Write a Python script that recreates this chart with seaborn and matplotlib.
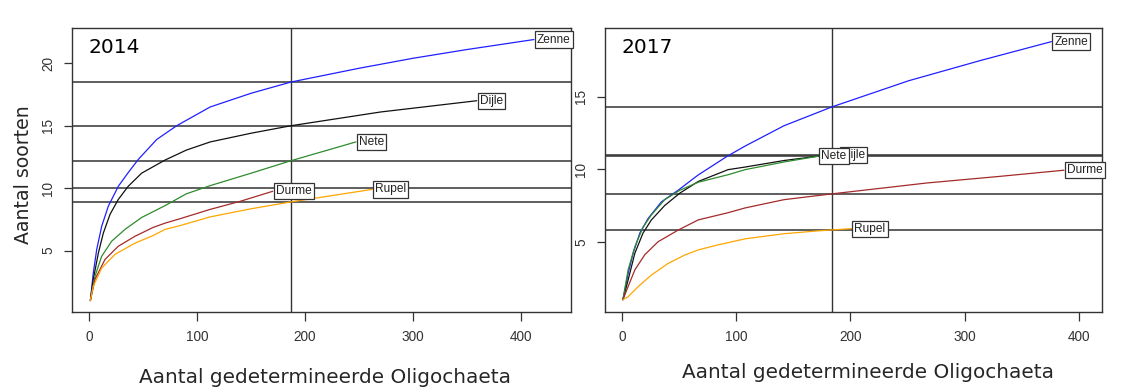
import matplotlib
matplotlib.use("Agg")
import matplotlib.pyplot as plt
import seaborn as sns
import pandas as pd

# ---------------- data ----------------
rivers = ["Zenne", "Dijle", "Nete", "Durme", "Rupel"]
colors = {"Zenne": "#2020ff", "Dijle": "#111111", "Nete": "#2e8b2e",
          "Durme": "#a52a2a", "Rupel": "#ffa500"}

# 2014
x14_zenne = [1, 3.7, 6.9, 11.5, 17.6, 26.9, 36.1, 45.4, 62.5, 81, 112, 150, 187, 250, 300, 350, 412]
y14_zenne = [1, 3.2, 5.1, 6.95, 8.55, 10.15, 11.25, 12.3, 13.9, 15.0, 16.5, 17.6, 18.5, 19.6, 20.4, 21.1, 21.9]
x14_dijle = [1, 3.7, 8.4, 13, 19.2, 26.9, 36.1, 48.5, 70.2, 90, 112, 150, 187, 270, 359]
y14_dijle = [1, 2.7, 4.8, 6.4, 7.9, 9.1, 10.15, 11.2, 12.25, 13.05, 13.7, 14.4, 15.0, 16.1, 17.0]
x14_nete = [1, 5.3, 11.5, 20.7, 33.1, 48.5, 70.2, 90, 112, 150, 187, 247]
y14_nete = [1, 2.95, 4.55, 5.75, 6.7, 7.65, 8.6, 9.55, 10.2, 11.2, 12.2, 13.7]
x14_durme = [1, 5.3, 14.6, 26.9, 42.4, 59, 70.2, 84, 112, 140, 170]
y14_durme = [1, 2.7, 4.3, 5.35, 6.15, 6.85, 7.2, 7.55, 8.3, 8.95, 9.75]
x14_rupel = [1, 3.7, 11.5, 23.8, 42.4, 59, 70.2, 84, 112, 150, 187, 262]
y14_rupel = [1, 2.15, 3.6, 4.7, 5.6, 6.2, 6.7, 7.0, 7.7, 8.35, 8.9, 9.9]
ref14_x = 187
ref14_y = [18.5, 15.0, 12.2, 10.0, 8.9]

# 2017
x17_zenne = [1, 5.5, 9.9, 15.8, 23, 34.7, 49.3, 66.8, 92, 108, 142, 184, 251, 314, 376]
y17_zenne = [1, 2.8, 4.2, 5.6, 6.6, 7.75, 8.55, 9.6, 10.88, 11.6, 13.0, 14.3, 16.1, 17.5, 18.8]
x17_dijle = [1, 5.5, 11.4, 18.6, 25.9, 37.6, 50.8, 66.8, 93, 108, 142, 172, 190]
y17_dijle = [1, 2.35, 4.2, 5.6, 6.5, 7.5, 8.35, 9.15, 9.97, 10.15, 10.6, 10.9, 11.0]
x17_nete = [1, 5.5, 11.4, 18.6, 25.9, 37.6, 50.8, 66.8, 93, 108, 142, 172]
y17_nete = [1, 3.05, 4.65, 6.0, 6.85, 7.9, 8.55, 9.1, 9.62, 9.97, 10.5, 10.9]
x17_durme = [1, 5.5, 11.4, 20.1, 31.8, 49.3, 66.8, 93, 108, 142, 184, 267, 330, 387]
y17_durme = [1, 1.9, 3.05, 4.1, 5.0, 5.8, 6.5, 7.0, 7.33, 7.9, 8.3, 9.05, 9.5, 9.93]
x17_rupel = [1, 5.5, 14.3, 25.9, 40.5, 55.1, 66.8, 82, 108, 142, 172, 201]
y17_rupel = [1, 1.2, 1.9, 2.7, 3.5, 4.08, 4.43, 4.74, 5.2, 5.55, 5.75, 5.9]
ref17_x = 184
ref17_y = [14.3, 11.0, 10.9, 8.3, 5.8]

xticks = [0, 100, 200, 300, 400]
yticks14 = [5, 10, 15, 20]
yticks17 = [5, 10, 15]
xlabel = "Aantal gedetermineerde Oligochaeta"
ylabel = "Aantal soorten"


def long_df(series):
    frames = []
    for name, xs, ys in series:
        frames.append(pd.DataFrame({"x": xs, "y": ys, "river": name}))
    return pd.concat(frames, ignore_index=True)


df14 = long_df([("Zenne", x14_zenne, y14_zenne), ("Dijle", x14_dijle, y14_dijle),
                ("Nete", x14_nete, y14_nete), ("Durme", x14_durme, y14_durme),
                ("Rupel", x14_rupel, y14_rupel)])
df17 = long_df([("Zenne", x17_zenne, y17_zenne), ("Dijle", x17_dijle, y17_dijle),
                ("Nete", x17_nete, y17_nete), ("Durme", x17_durme, y17_durme),
                ("Rupel", x17_rupel, y17_rupel)])

# ---------------- style ----------------
sns.set_style("white")
plt.rcParams["font.family"] = ["Liberation Sans", "DejaVu Sans"]

W, H = 1129, 392
fig = plt.figure(figsize=(W / 100, H / 100), dpi=100)
fig.patch.set_facecolor("white")

ax1 = fig.add_axes([71.7 / W, 1 - 312.3 / H, 499.3 / W, 284 / H])
ax2 = fig.add_axes([605 / W, 1 - 312.3 / H, 497 / W, 284 / H])

label_order14 = ["Rupel", "Durme", "Nete", "Dijle", "Zenne"]
label_order17 = ["Rupel", "Durme", "Dijle", "Nete", "Zenne"]


def draw(ax, df, ref_x, ref_y, xlim, ylim, yticks, year, order):
    for v in ref_y:
        ax.axhline(v, color="#333333", lw=1.1, zorder=1)
    ax.axvline(ref_x, color="#333333", lw=1.0, zorder=1)
    sns.lineplot(data=df, x="x", y="y", hue="river", palette=colors,
                 hue_order=rivers, estimator=None, sort=False, legend=False,
                 lw=0.9, ax=ax, zorder=2)
    z = 5
    for name in order:
        sub = df[df["river"] == name]
        xe, ye = sub["x"].iloc[-1], sub["y"].iloc[-1]
        ax.annotate(name, xy=(xe, ye), xytext=(2.2, 0), textcoords="offset points",
                    ha="left", va="center", fontsize=8.6, color="#222222",
                    bbox=dict(boxstyle="square,pad=0.18", fc="white", ec="#333333", lw=0.9),
                    zorder=z, annotation_clip=False)
        z += 1
    ax.set_xlim(*xlim)
    ax.set_ylim(*ylim)
    ax.set_xticks(xticks)
    ax.set_yticks(yticks)
    ax.set_xlabel("")
    ax.set_ylabel("")
    for s in ax.spines.values():
        s.set_color("#333333")
        s.set_linewidth(1.0)
    ax.tick_params(axis="x", bottom=True, length=6.5, width=0.9, color="#333333",
                   pad=6, labelsize=9.8, labelcolor="#333333")
    ax.tick_params(axis="y", left=True, length=5.5, width=0.9, color="#333333",
                   pad=6.5, labelsize=9.8, labelcolor="#333333")
    for lab in ax.get_yticklabels():
        lab.set_rotation(90)
        lab.set_va("center")
    ax.text(0.033, 0.932, year, transform=ax.transAxes, fontsize=14.5,
            family="DejaVu Sans", ha="left", va="center", color="black", zorder=10)


draw(ax1, df14, ref14_x, ref14_y, (-16.3, 446.4), (0.06, 22.8), yticks14, "2014", label_order14)
draw(ax2, df17, ref17_x, ref17_y, (-14.7, 420.3), (0.13, 19.72), yticks17, "2017", label_order17)

fig.text(24 / W, 1 - 175 / H, ylabel, rotation=90, ha="center", va="center",
         fontsize=13.6, family="DejaVu Sans")
fig.text(325 / W, 1 - 383 / H, xlabel, ha="center", va="baseline",
         fontsize=14.4, family="DejaVu Sans")
fig.text(868.5 / W, 1 - 378 / H, xlabel, ha="center", va="baseline",
         fontsize=14.4, family="DejaVu Sans")

fig.savefig("out.png", dpi=100)
